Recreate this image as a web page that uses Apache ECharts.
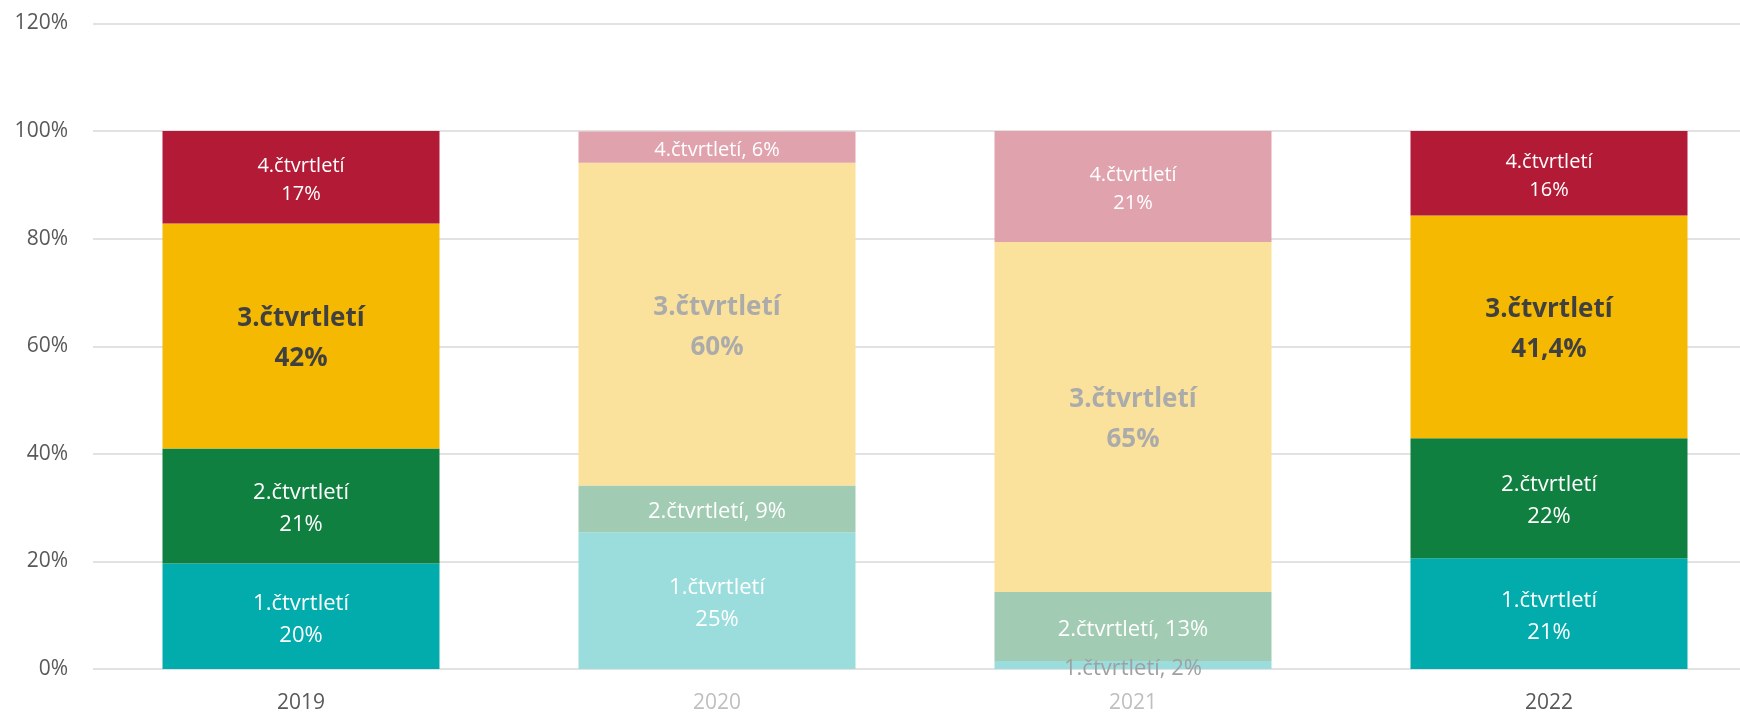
<!DOCTYPE html>
<html><head><meta charset="utf-8">
<script src="https://cdn.jsdelivr.net/npm/echarts@6/dist/echarts.min.js"></script>
<style>html,body{margin:0;padding:0;background:#fff;overflow:hidden;width:1740px;height:715px}#c{width:1757px;height:715px}</style>
</head><body><div id="c"></div>
<script>
// ---- data ----
const years = ['2019', '2020', '2021', '2022'];
const highlighted = [true, false, false, true];
const quarterNames = ['1.čtvrtletí', '2.čtvrtletí', '3.čtvrtletí', '4.čtvrtletí'];
const q1 = [19.6, 25.4, 1.5, 20.6];
const q2 = [21.4, 8.7, 12.8, 22.3];
const q3 = [41.8, 60.0, 65.1, 41.4];
const q4 = [17.2, 5.8, 20.6, 15.7];
const q3Decimals = [0, 0, 0, 1];
const yMin = 0, yMax = 120, yStep = 20;

// ---- styles ----
const brightColors = ['#02ACAC', '#108041', '#F4B900', '#B31A35'];
const fadedColors = ['#9BDDDC', '#A1CBB3', '#FAE29C', '#E0A3AE'];
const FONT = '"Open Sans", "Noto Sans", sans-serif';
const labelSizes = [22, 22, 26, 20];
const labelLineHeights = [32, 32, 40, 28];

function pct(v, d) { return v.toFixed(d).replace('.', ',') + '%'; }

const quarters = [q1, q2, q3, q4];
const series = quarters.map((vals, qi) => ({
  name: quarterNames[qi],
  type: 'bar',
  stack: 'total',
  barWidth: 277,
  data: vals.map((v, yi) => {
    const hi = highlighted[yi];
    const bold = qi === 2;
    const d = qi === 2 ? q3Decimals[yi] : 0;
    const text = v < 15 ? quarterNames[qi] + ', ' + pct(v, d) : quarterNames[qi] + '\n' + pct(v, d);
    let color = bold ? (hi ? '#404040' : '#ABABAB') : '#FFFFFF';
    let offset = [0, 3];
    if (v < 5) { color = '#A0A0A0'; offset = [0, 4]; }
    return {
      value: v,
      itemStyle: { color: hi ? brightColors[qi] : fadedColors[qi] },
      label: {
        show: true, position: 'inside', formatter: text, color: color,
        fontFamily: FONT, fontSize: labelSizes[qi], fontWeight: bold ? 'bold' : 'normal',
        lineHeight: labelLineHeights[qi], offset: offset
      }
    };
  })
}));

const chart = echarts.init(document.getElementById('c'), null, { renderer: 'canvas' });
chart.setOption({
  animation: false,
  backgroundColor: '#ffffff',
  grid: { left: 93, right: 0, top: 23.5, bottom: 46, containLabel: false },
  xAxis: {
    type: 'category',
    data: years,
    axisLine: { show: false },
    axisTick: { show: false },
    axisLabel: {
      margin: 24,
      fontFamily: FONT,
      fontSize: 21,
      formatter: (v, i) => (highlighted[i] ? '{hi|' + v + '}' : '{lo|' + v + '}'),
      rich: {
        hi: { color: '#595959', fontFamily: FONT, fontSize: 21 },
        lo: { color: '#BFBFBF', fontFamily: FONT, fontSize: 21 }
      }
    }
  },
  yAxis: {
    type: 'value',
    min: yMin, max: yMax, interval: yStep,
    axisLine: { show: false },
    axisTick: { show: false },
    axisLabel: { formatter: '{value}%', color: '#595959', fontFamily: FONT, fontSize: 21, margin: 25 },
    splitLine: { lineStyle: { color: '#D9D9D9', width: 1.5 } }
  },
  series: series
});
</script>
</body></html>
